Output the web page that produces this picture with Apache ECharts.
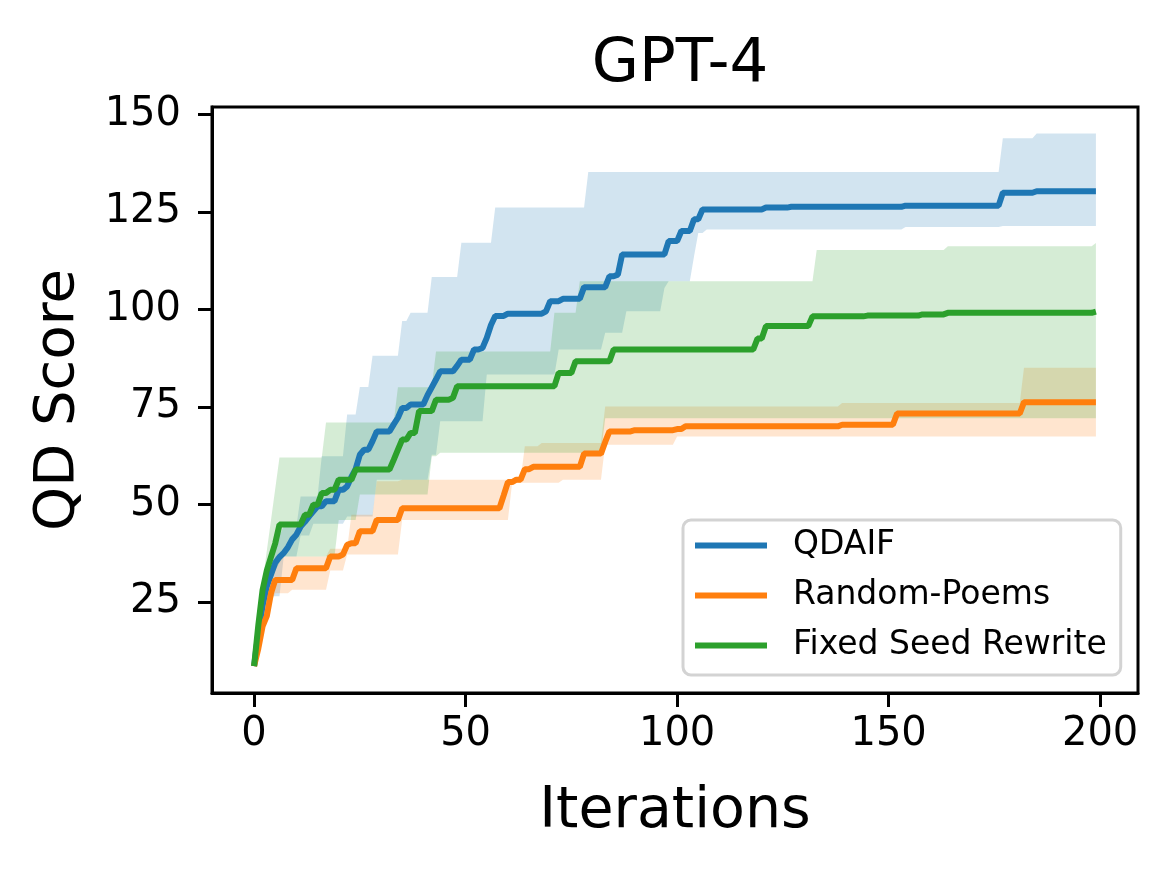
<!DOCTYPE html>
<html><head><meta charset="utf-8">
<script src="https://cdn.jsdelivr.net/npm/echarts@6/dist/echarts.min.js"></script>
<style>html,body{margin:0;padding:0;background:#fff}#c{width:1170px;height:870px}</style>
</head><body><div id="c"></div>
<script>
const xTicks = [0, 50, 100, 150, 200];
const yTicks = [25, 50, 75, 100, 125, 150];
const seriesNames = ['QDAIF', 'Random-Poems', 'Fixed Seed Rewrite'];
const colors = ['#1f77b4', '#ff7f0e', '#2ca02c'];

// mean curves: [first iteration with this value, value]
const qdaifMean = [[0,8.5],[1,17],[2,24],[3,29],[4,32],[5,35],[6,36.5],[7,37.5],[8,39],[9,41],[10,42.2],[11,44.3],[12,45.5],[13,46.9],[14,48.2],[15,49.5],[17,50.8],[20,53.7],[22,54.6],[23,57],[24,59],[25,62.7],[26,64],[28,66.2],[29,68.7],[33,70.5],[34,72.2],[35,74.7],[37,75.6],[41,78],[42,80],[43,82],[44,84.1],[48,85.5],[49,87.1],[52,89.7],[54,90.1],[55,92.7],[56,96],[57,98.3],[60,98.9],[69,99.5],[70,102.1],[73,102.7],[78,105.7],[84,108.5],[86,108.9],[87,114.1],[98,117.5],[101,120.1],[104,123.1],[106,125.6],[121,126.1],[127,126.3],[154,126.6],[177,129.9],[185,130.3],[199,130.3]];
const randomMean = [[0,8.5],[1,13],[2,18.7],[3,21.3],[4,27.2],[5,30.6],[10,33.6],[18,36.6],[21,37.1],[22,39.6],[23,40],[25,43.1],[29,46],[35,49],[59,52.3],[60,55.7],[62,56.3],[64,59],[66,59.6],[78,63],[83,66],[84,68.7],[90,69],[100,69.3],[102,70],[139,70.4],[152,73.3],[182,76.2],[199,76.2]];
const fixedMean = [[0,8.5],[1,19],[2,28],[3,33],[4,36.5],[5,40],[6,44.8],[12,47.3],[14,49.9],[16,52.9],[18,53.7],[20,56.3],[24,58.9],[33,61.4],[34,64],[35,66.6],[37,68.3],[39,73.9],[43,76.8],[47,77.3],[48,80.3],[72,83.7],[76,86.7],[85,89.7],[119,92.5],[121,95.7],[132,98.2],[145,98.4],[158,98.7],[164,99.1],[199,99.4]];

// confidence bands: [first iteration with these bounds, lower, upper]
const qdaifBand = [[0,8.5,8.5],[1,13,20],[2,18,27],[3,22,33],[4,26.4,38],[5,26.4,42],[7,36.6,44.3],[11,42,52],[14,45,52],[16,45,62.3],[22,46.9,73],[25,46.9,80.1],[28,46.9,88.1],[29,56.3,88.1],[35,56.3,97],[37,56.3,99.1],[42,62.7,108.3],[44,71.3,108.3],[49,71.3,117.1],[55,83.3,117.1],[57,83.3,126.1],[72,89.7,126.1],[79,89.7,135.2],[83,94,135.2],[88,99.5,135.2],[97,105.5,135.2],[98,107.2,135.2],[104,113.6,135.2],[105,119.6,135.2],[107,120.5,135.2],[154,121.1,135.2],[177,121.4,143.9],[185,121.4,145.1],[199,121.4,145.1]];
const randomBand = [[0,8.5,8.5],[1,12,15],[2,17,21],[3,20,26],[4,25,32],[5,27.2,36.6],[9,28.1,36.6],[18,33,38.6],[22,37.1,38.6],[23,37.1,47.3],[29,37.1,55.9],[35,46,56.3],[61,55.5,56.3],[64,55.5,64.9],[68,55.5,65.7],[73,56.3,65.7],[83,65.3,75.1],[100,67.4,75.1],[139,67.4,76],[182,67.4,85],[199,67.4,85]];
const fixedBand = [[0,8.5,8.5],[1,15,22],[2,20,30],[3,25,38],[4,30,46],[5,33,54],[6,35,62],[7,36.6,62],[17,36.6,71],[20,46,71],[25,52.5,71],[34,52.5,80],[42,62.3,80],[43,62.3,89.2],[44,63.2,89.2],[71,63.2,99.1],[77,63.2,107.2],[83,72.1,107.2],[133,72.1,115.2],[164,72.1,116.2],[199,72.1,117]];

const FONT = 'DejaVu Sans';
const means = [qdaifMean, randomMean, fixedMean];
const bands = [qdaifBand, randomBand, fixedBand];

// Values are held constant between change points; the plotted curve ramps over
// the one iteration before each change (as a per-iteration line plot does).
function vertices(rows, col) {
  const out = [];
  rows.forEach((r, i) => {
    if (i > 0) {
      const p = rows[i - 1];
      if (r[0] - 1 > p[0]) out.push([r[0] - 1, p[col]]);
    }
    out.push([r[0], r[col]]);
  });
  return out;
}

const series = [];
bands.forEach((band, i) => {
  const upper = vertices(band, 2);
  const lower = vertices(band, 1);
  series.push({
    name: seriesNames[i] + ' band', type: 'custom', silent: true, z: 1,
    data: band, encode: { x: 0, y: [1, 2] },
    renderItem: function (params, api) {
      if (params.dataIndex !== 0) return null;
      const pts = [];
      upper.forEach(p => pts.push(api.coord(p)));
      for (let k = lower.length - 1; k >= 0; k--) pts.push(api.coord(lower[k]));
      return {
        type: 'polygon', shape: { points: pts },
        style: { fill: colors[i], opacity: 0.2 }
      };
    }
  });
});
means.forEach((m, i) => {
  series.push({
    name: seriesNames[i], type: 'line', data: vertices(m, 1), symbol: 'none',
    z: 3 + i, color: colors[i], itemStyle: { color: colors[i] },
    lineStyle: { color: colors[i], width: 6 }
  });
});

const chart = echarts.init(document.getElementById('c'), null, { renderer: 'canvas' });
chart.setOption({
  animation: false,
  backgroundColor: '#fff',
  title: {
    text: 'GPT-4', left: 675, top: 30, textAlign: 'center',
    textStyle: { fontFamily: FONT, fontSize: 61, fontWeight: 'normal', color: '#000' }
  },
  legend: {
    orient: 'vertical', left: 683, top: 520,
    data: seriesNames.map((n, i) => ({ name: n, icon: 'rect', itemStyle: { color: colors[i] } })),
    itemWidth: 72, itemHeight: 6, itemGap: 17,
    padding: [9, 14, 13, 12],
    backgroundColor: '#fff', borderColor: '#d3d3d3', borderWidth: 3, borderRadius: 8,
    textStyle: { fontFamily: FONT, fontSize: 33, color: '#000', lineHeight: 33, padding: [0, 0, 0, 21] }
  },
  grid: {
    left: 212, top: 107, right: 32, bottom: 177,
    show: true, borderColor: '#000', borderWidth: 3, backgroundColor: 'transparent'
  },
  xAxis: {
    type: 'value', min: -9.95, max: 208.95,
    name: 'Iterations', nameLocation: 'middle', nameGap: 91,
    nameTextStyle: { fontFamily: FONT, fontSize: 57, color: '#000' },
    axisLine: { show: true, onZero: false, lineStyle: { color: '#000', width: 3 } },
    axisTick: { show: true, length: 14, customValues: xTicks, lineStyle: { color: '#000', width: 3 } },
    axisLabel: { customValues: xTicks, fontFamily: FONT, fontSize: 40, color: '#000', margin: 22 },
    splitLine: { show: false }
  },
  yAxis: {
    type: 'value', min: 1.6, max: 151.9,
    name: 'QD Score', nameLocation: 'middle', nameGap: 126,
    nameTextStyle: { fontFamily: FONT, fontSize: 56, color: '#000' },
    axisLine: { show: true, onZero: false, lineStyle: { color: '#000', width: 3 } },
    axisTick: { show: true, length: 14, customValues: yTicks, lineStyle: { color: '#000', width: 3 } },
    axisLabel: { customValues: yTicks, fontFamily: FONT, fontSize: 40, color: '#000', margin: 31 },
    splitLine: { show: false }
  },
  series: series
});
</script>
</body></html>
